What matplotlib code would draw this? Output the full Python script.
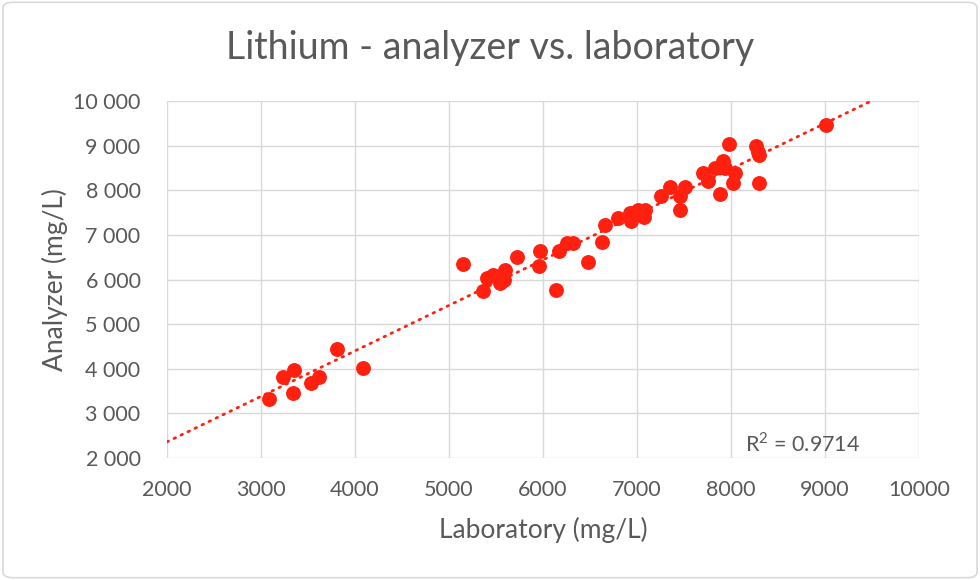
import matplotlib
matplotlib.use("Agg")
import matplotlib.pyplot as plt
import numpy as np
from matplotlib.patches import FancyBboxPatch
from matplotlib.ticker import FuncFormatter, MultipleLocator

plt.rcParams['font.family'] = ['Lato', 'DejaVu Sans']
plt.rcParams['mathtext.fontset'] = 'custom'
plt.rcParams['mathtext.rm'] = 'Lato'

laboratory = [3080, 3230, 3350, 3340, 3530, 3620, 3810, 4080,
              5150, 5360, 5400, 5470, 5540, 5600, 5580, 5720, 5970, 5960, 6140, 6170, 6250, 6320, 6480,
              6630, 6660, 6800, 6930, 6940, 7010, 7080, 7070, 7260, 7350, 7460, 7460, 7510,
              7700, 7760, 7830, 7910, 7940, 8040, 8020, 7880, 7980, 8270, 8300, 8290, 8300, 9010]
analyzer = [3320, 3810, 3970, 3450, 3690, 3810, 4450, 4010,
            6350, 5750, 6040, 6100, 5920, 6220, 5990, 6510, 6630, 6310, 5770, 6640, 6810, 6810, 6390,
            6830, 7220, 7370, 7490, 7310, 7560, 7560, 7410, 7860, 8080, 7860, 7560, 8080,
            8380, 8200, 8500, 8650, 8500, 8380, 8160, 7920, 9040, 9000, 8790, 8850, 8160, 9470]

title = "Lithium - analyzer vs. laboratory"
x_label = "Laboratory (mg/L)"
y_label = "Analyzer (mg/L)"
r2_text = r"R$^\mathregular{2}$ = 0.9714"

grey = "#595959"
red = "#FF2010"

fig = plt.figure(figsize=(9.8, 5.8), dpi=100)
ax = fig.add_axes([0.1704, 0.2103, 0.7674, 0.6156])

x = np.array(laboratory, dtype=float)
y = np.array(analyzer, dtype=float)
ax.scatter(x, y, s=115, color=red, zorder=3, linewidths=0)

slope, intercept = np.polyfit(x, y, 1)
xs = np.linspace(2000, 10000, 400)
ax.plot(xs, slope * xs + intercept, color=red, linewidth=2.0,
        linestyle=(0, (0.6, 2.2)), dash_capstyle='round', zorder=2)

ax.set_xlim(2000, 10000)
ax.set_ylim(2000, 10000)
ax.xaxis.set_major_locator(MultipleLocator(1000))
ax.yaxis.set_major_locator(MultipleLocator(1000))
ax.yaxis.set_major_formatter(FuncFormatter(lambda v, p: f"{int(v):,}".replace(",", " ")))
ax.xaxis.set_major_formatter(FuncFormatter(lambda v, p: f"{int(v)}"))
ax.grid(True, color="#D9D9D9", linewidth=1.0, zorder=0)
ax.set_axisbelow(True)
for s in ax.spines.values():
    s.set_visible(False)
ax.tick_params(length=0, labelsize=15.5, colors=grey)
ax.tick_params(axis='y', pad=19)
ax.tick_params(axis='x', pad=16)

ax.set_xlabel(x_label, fontsize=19, color=grey, labelpad=12)
ax.set_ylabel(y_label, fontsize=19, color=grey, labelpad=4)
fig.text(0.5, 0.918, title, ha='center', va='center', fontsize=27, color=grey)
ax.text(9380, 2330, r2_text, ha='right', va='center', fontsize=15.5, color=grey)

border = FancyBboxPatch((0.003, 0.004), 0.994, 0.992, boxstyle="round,pad=0,rounding_size=0.01",
                        transform=fig.transFigure, facecolor='none', edgecolor='#D9D9D9',
                        linewidth=1.2)
fig.patches.append(border)

fig.savefig("out.png", dpi=100)
